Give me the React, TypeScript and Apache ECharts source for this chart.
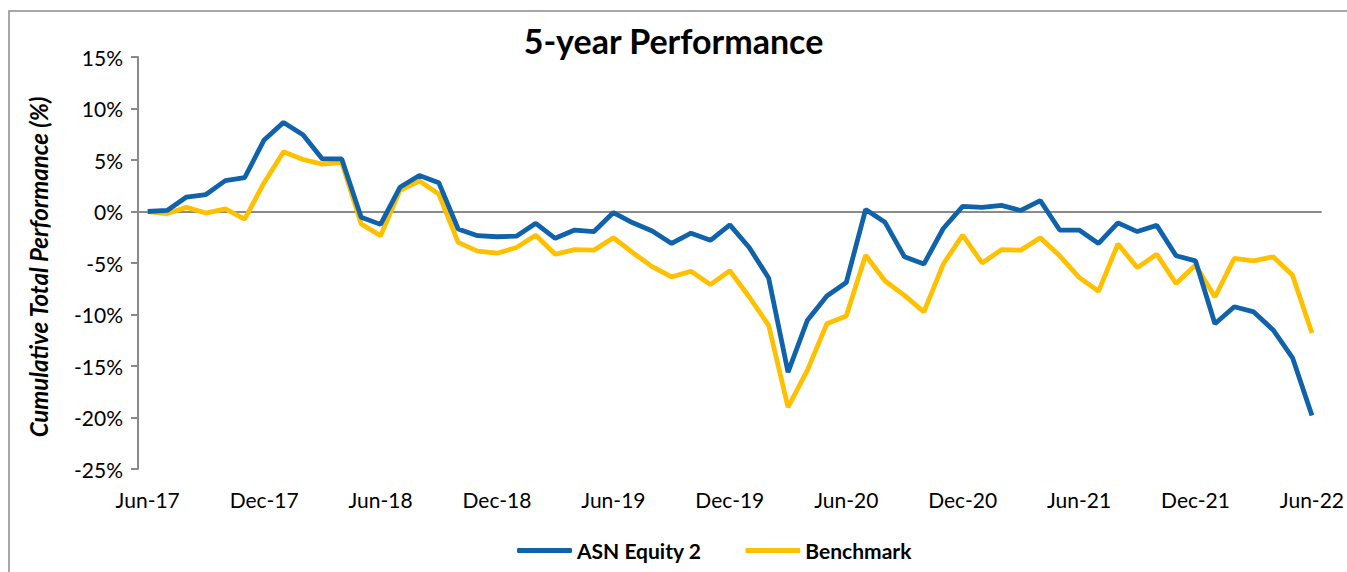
import React, { useEffect, useRef } from "react";
import * as echarts from "echarts";

const months: string[] = [
  "Jun-17", "Jul-17", "Aug-17", "Sep-17", "Oct-17", "Nov-17", "Dec-17",
  "Jan-18", "Feb-18", "Mar-18", "Apr-18", "May-18", "Jun-18",
  "Jul-18", "Aug-18", "Sep-18", "Oct-18", "Nov-18", "Dec-18",
  "Jan-19", "Feb-19", "Mar-19", "Apr-19", "May-19", "Jun-19",
  "Jul-19", "Aug-19", "Sep-19", "Oct-19", "Nov-19", "Dec-19",
  "Jan-20", "Feb-20", "Mar-20", "Apr-20", "May-20", "Jun-20",
  "Jul-20", "Aug-20", "Sep-20", "Oct-20", "Nov-20", "Dec-20",
  "Jan-21", "Feb-21", "Mar-21", "Apr-21", "May-21", "Jun-21",
  "Jul-21", "Aug-21", "Sep-21", "Oct-21", "Nov-21", "Dec-21",
  "Jan-22", "Feb-22", "Mar-22", "Apr-22", "May-22", "Jun-22",
];

const asnEquity2: number[] = [
  0, 0.1, 1.4, 1.65, 3.0, 3.3, 6.95,
  8.65, 7.45, 5.1, 5.1, -0.55, -1.25,
  2.35, 3.5, 2.8, -1.7, -2.35, -2.45,
  -2.4, -1.15, -2.6, -1.8, -1.95, -0.1,
  -1.1, -1.9, -3.1, -2.1, -2.8, -1.3,
  -3.5, -6.45, -15.6, -10.55, -8.2, -6.9,
  0.2, -1.05, -4.4, -5.1, -1.65, 0.5,
  0.4, 0.6, 0.1, 1.05, -1.8, -1.8,
  -3.1, -1.1, -1.95, -1.35, -4.3, -4.8,
  -10.9, -9.25, -9.75, -11.5, -14.2, -19.8,
];

const benchmark: number[] = [
  0, -0.2, 0.4, -0.15, 0.25, -0.75, 2.8,
  5.8, 5.05, 4.6, 4.75, -1.2, -2.35,
  2.05, 2.95, 1.7, -3.0, -3.85, -4.05,
  -3.5, -2.3, -4.15, -3.7, -3.75, -2.55,
  -4.0, -5.35, -6.35, -5.8, -7.1, -5.75,
  -8.3, -11.05, -19.0, -15.4, -10.9, -10.15,
  -4.25, -6.75, -8.15, -9.75, -5.1, -2.3,
  -5.0, -3.7, -3.75, -2.55, -4.3, -6.4,
  -7.75, -3.15, -5.45, -4.15, -7.0, -5.2,
  -8.3, -4.55, -4.8, -4.4, -6.2, -11.8,
];

const seriesNames = ["ASN Equity 2", "Benchmark"];
const yMin = -25;
const yMax = 15;
const yStep = 5;

const FONT = "Lato, 'Liberation Sans', sans-serif";
const GRAY = "#8a8a8a";

export default function App() {
  const ref = useRef<HTMLDivElement>(null);

  useEffect(() => {
    if (!ref.current) return;
    const chart = echarts.init(ref.current, undefined, { renderer: "svg" });
    const nTicks = Math.round((yMax - yMin) / yStep) + 1;
    const splitColors: string[] = [];
    for (let i = 0; i < nTicks; i++) {
      splitColors.push(yMin + i * yStep === 0 ? GRAY : "rgba(0,0,0,0)");
    }
    chart.setOption({
      animation: false,
      backgroundColor: "#ffffff",
      title: {
        text: "5-year Performance",
        left: "center",
        top: 18,
        textStyle: { fontFamily: FONT, fontSize: 34, fontWeight: "bold", color: "#000" },
      },
      graphic: [
        {
          type: "rect",
          shape: { x: 9, y: 11, width: 1400, height: 700 },
          style: { fill: "none", stroke: GRAY, lineWidth: 1.5 },
          silent: true,
        },
        {
          type: "text",
          x: 38,
          y: 267,
          rotation: Math.PI / 2,
          style: {
            text: "Cumulative Total Performance (%)",
            fontFamily: FONT,
            fontSize: 24,
            fontWeight: "bold",
            fontStyle: "italic",
            fill: "#000",
            align: "center",
            verticalAlign: "middle",
          },
        },
      ],
      legend: {
        left: 517,
        top: 540,
        padding: 0,
        icon: "roundRect",
        itemWidth: 55,
        itemHeight: 5,
        itemGap: 44,
        textStyle: { fontFamily: FONT, fontSize: 21, fontWeight: "bold", color: "#000" },
        data: seriesNames,
      },
      grid: { left: 138, top: 57, width: 1187, height: 412, containLabel: false },
      xAxis: {
        type: "category",
        data: months,
        boundaryGap: true,
        axisLine: { show: false },
        axisTick: { show: false },
        splitLine: { show: false },
        axisLabel: {
          interval: 5,
          margin: 20,
          fontFamily: FONT,
          fontSize: 21,
          color: "#000",
        },
      },
      yAxis: {
        type: "value",
        min: yMin,
        max: yMax,
        interval: yStep,
        axisLine: { show: true, lineStyle: { color: GRAY, width: 2 } },
        axisTick: { show: true, length: 7, lineStyle: { color: GRAY, width: 2 } },
        splitLine: { show: true, lineStyle: { color: splitColors, width: 2 } },
        axisLabel: {
          formatter: "{value}%",
          margin: 15,
          fontFamily: FONT,
          fontSize: 21,
          color: "#000",
        },
      },
      series: [
        {
          name: seriesNames[0],
          type: "line",
          data: asnEquity2,
          symbol: "none",
          showSymbol: false,
          lineStyle: { color: "#1062AA", width: 4.8 },
          itemStyle: { color: "#1062AA" },
          z: 3,
        },
        {
          name: seriesNames[1],
          type: "line",
          data: benchmark,
          symbol: "none",
          showSymbol: false,
          lineStyle: { color: "#FFC000", width: 4.8 },
          itemStyle: { color: "#FFC000" },
          z: 2,
        },
      ],
    });
    return () => chart.dispose();
  }, []);

  return (
    <div
      ref={ref}
      style={{ position: "fixed", left: 0, top: 0, width: 1347, height: 572, background: "#fff" }}
    />
  );
}
